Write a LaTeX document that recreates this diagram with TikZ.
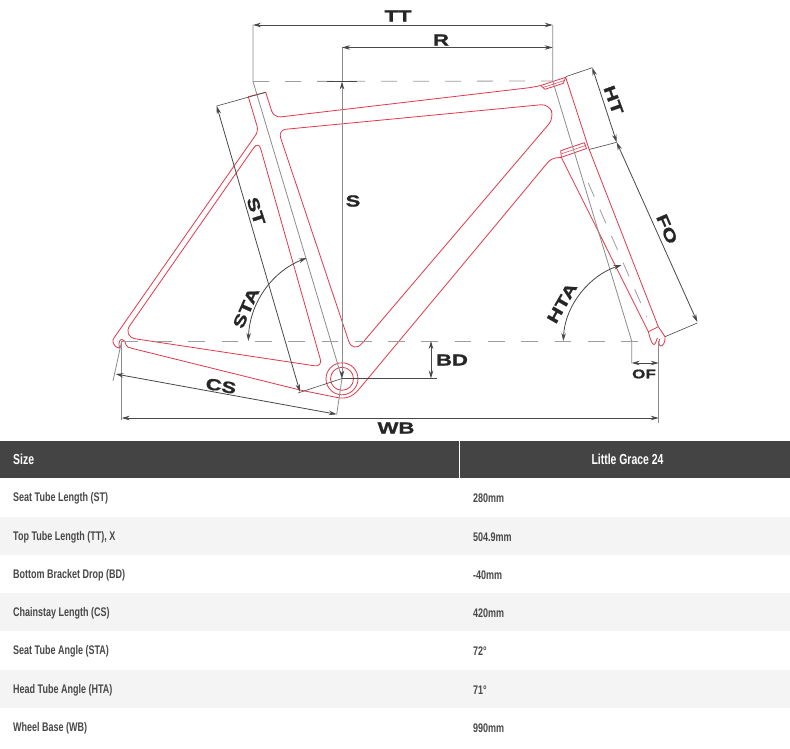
\documentclass[tikz,border=0pt]{standalone}
\usepackage{fontspec}
\setmainfont{Liberation Sans}
\newfontfamily\dimfont[FakeStretch=1.38,FakeBold=1.2]{Liberation Sans}
\newfontfamily\rowfont[FakeStretch=0.72]{Liberation Sans}
\usetikzlibrary{arrows.meta}
\definecolor{framered}{HTML}{E2384A}
\definecolor{dimdark}{HTML}{484848}
\definecolor{dimgray}{HTML}{8C8C8C}
\definecolor{bandgray}{HTML}{F4F4F4}
\tikzset{
  frameline/.style={draw=framered,line width=.8pt,line join=round},
  dimline/.style={draw=dimdark,line width=.8pt,{Stealth[length=8pt,width=4.5pt,color=dimdark]}-{Stealth[length=8pt,width=4.5pt,color=dimdark]}},
  extline/.style={draw=dimgray,line width=.8pt},
  thinline/.style={draw=dimdark,line width=.6pt},
  dashline/.style={draw=dimgray!85,line width=.8pt,dash pattern=on 16pt off 16pt},
  dimlabel/.style={font=\dimfont\bfseries\fontsize{16}{16}\selectfont,text=black!85,inner sep=0pt},
  rowlabel/.style={font=\rowfont\bfseries\fontsize{12.5}{14}\selectfont,text=dimdark,inner sep=0pt,anchor=west},
  headlabel/.style={rowlabel,font=\rowfont\bfseries\fontsize{14.5}{16}\selectfont,text=white}
}
\begin{document}
\begin{tikzpicture}[x=1pt,y=-1pt]
    \useasboundingbox (0,0) rectangle (790,749);
    \fill[white] (0,0) rectangle (790,749);

    % table
    \fill[bandgray] (0,517) rectangle (790,555) (0,593) rectangle (790,631) (0,670) rectangle (790,708);
    \fill[dimdark!95!black] (0,441) rectangle (790,478);
    \draw[white,line width=.7pt] (459.5,441) -- (459.5,478);
    \node[headlabel] (size) at (13,459.5) {Size};
    \node[headlabel,anchor=center] (model) at (627.5,459.5) {Little Grace 24};
    \foreach \y/\name/\val [count=\i] in {498/Seat Tube Length (ST)/280mm,
        537/{Top Tube Length (TT), X}/504.9mm,
        575/Bottom Bracket Drop (BD)/-40mm,
        613/Chainstay Length (CS)/420mm,
        651/Seat Tube Angle (STA)/72°,
        690/Head Tube Angle (HTA)/71°,
        728/Wheel Base (WB)/990mm} {
      \node[rowlabel] (name_\i) at (13,\y) {\name};
      \node[rowlabel] (val_\i) at (473,\y) {\val};
    }

    % frame
    \draw[frameline] (248.3,96.7) -- (265.7,92.3) [rounded corners=7pt] -- (273.8,117.7) -- (533,87.3) [sharp corners] -- (540.7,85.5) -- (565.7,77.3) -- (589,149) -- (658.3,326.7);
    \draw[frameline,rounded corners=5pt] (248.3,96.7) -- (258.5,131) -- (116,335) [sharp corners] .. controls (112,341) and (114,348) .. (119.5,348) .. controls (118,342) and (120,339.5) .. (122,339.5) .. controls (124,339.5) and (126,342) .. (126,345) .. controls (126.5,347) and (129,347.5) .. (131.7,348.3) -- (300,390) -- (337,397.5) .. controls (345,399) and (352,398) .. (360,388) -- (400,340) -- (500,220) [rounded corners=5pt] -- (551,158.5) -- (561.3,157.3);
    \draw[frameline,rounded corners=8pt] (258.5,141) -- (322.5,367) [rounded corners=14pt] -- (122,336.8) [rounded corners=8pt] -- cycle;
    \draw[frameline,rounded corners=8pt] (278,130) -- (549,104) -- (554,118) [rounded corners=14pt] -- (353,354) [rounded corners=8pt] -- cycle;
    \draw[frameline] (540.7,85.5) -- (545,89.3) -- (563.3,83.3) -- (565.7,77.3);
    \draw[frameline,line width=.5pt] (543,87.5) -- (564.5,80.5);
    \draw[frameline] (560.7,150.7) -- (584.3,142.7) -- (586.5,148.5) -- (561.3,157.3) -- cycle;
    \draw[frameline,line width=.5pt] (561,154) -- (585.5,145.5);
    \draw[frameline] (561.3,157.3) -- (648.3,331.7) .. controls (650,338) and (652,345) .. (654,344.5) .. controls (656,344) and (656.5,339) .. (657.5,338) ;
    \draw[frameline] (648.3,331.7) -- (658.3,326.7) -- (665,336.7) .. controls (665.5,342) and (663,346.5) .. (660.5,346) .. controls (658.5,345) and (658.5,341) .. (659.5,339);
    \node[circle,frameline,minimum size=32pt,inner sep=0pt] (bb_out) at (342,378.8) {};
    \node[circle,frameline,minimum size=23pt,inner sep=0pt] (bb_in) at (342,378.8) {};

    % points of the dimensions
    \coordinate (tt_l) at (253,25);
    \coordinate (tt_r) at (552.7,25);
    \coordinate (r_l) at (342,47.5);
    \coordinate (r_r) at (552.7,47.5);
    \coordinate (st_top) at (253,81.5);
    \coordinate (hd_top) at (552.7,81);
    \coordinate (s_top) at (342,81.5);
    \coordinate (bb) at (342,378.5);
    \coordinate (rear) at (121.7,341);
    \coordinate (front) at (658.7,341);
    \coordinate (hd_low) at (631.7,341);

    % extension lines
    \draw[extline] (tt_l) -- (st_top) -- (bb);
    \draw[extline] (tt_r) -- (hd_top) -- (hd_low) -- (631.7,363);
    \draw[extline] (r_l) -- (s_top);
    \draw[extline] (rear) -- (121.7,420);
    \draw[extline] (front) -- (658.7,423);
    \draw[dashline] (st_top) -- (hd_top);
    \draw[dashline,dash pattern=on 16.7pt off 16.6pt] (rear) -- (640,341);
    \draw[dashline,dash pattern=on 15pt off 14pt] (588.3,183) -- (646.7,316.7);
    \draw[thinline,line width=.9pt] (327,81) -- (357,81);
    \draw[thinline] (216.7,106) -- (265.7,92.3);
    \draw[thinline] (298,393) -- (bb);
    \draw[thinline] (bb) -- (437,378.5);
    \draw[thinline] (592.3,67.7) -- (565.7,76.7);
    \draw[thinline] (616.7,142.3) -- (589,149.5);
    \draw[thinline] (697.3,323) -- (665,336.7);
    \draw[extline] (rear) -- (113,381);
    \draw[extline] (bb) -- (336.7,414.3);

    % dimensions
    \draw[dimline] (tt_l) -- (tt_r);
    \draw[dimline] (r_l) -- (r_r);
    \draw[dimline,dimgray] (bb) -- (s_top);
    \draw[dimline] (216.7,106) -- (300,392);
    \draw[dimline] (592.3,67.7) -- (616.7,142.3);
    \draw[dimline] (616.7,142.3) -- (697.3,322);
    \draw[dimline] (431,341) -- (431,378.5);
    \draw[dimline] (631.7,363) -- (658.7,363);
    \draw[dimline] (121.7,418) -- (658.7,418);
    \draw[dimline] (115.5,374) -- (336.7,414.3);
    \draw[dimline] (248.3,341) .. controls (250,300) and (275,270) .. (306.7,258);
    \draw[dimline] (563.3,341) .. controls (565,305) and (590,275) .. (621.7,265);

    % labels
    \node[dimlabel] (l_tt) at (398,16) {TT};
    \node[dimlabel] (l_r) at (441,40) {R};
    \node[dimlabel] (l_s) at (353,201) {S};
    \node[dimlabel,rotate=-72] (l_st) at (256,211) {ST};
    \node[dimlabel,rotate=66] (l_sta) at (246,308) {STA};
    \node[dimlabel,rotate=-10] (l_cs) at (221,386) {CS};
    \node[dimlabel] (l_wb) at (396,428) {WB};
    \node[dimlabel] (l_bd) at (452,360) {BD};
    \node[dimlabel,font=\dimfont\bfseries\fontsize{12.5}{12.5}\selectfont] (l_of) at (644,374) {OF};
    \node[dimlabel,rotate=60] (l_hta) at (562,303) {HTA};
    \node[dimlabel,rotate=-70] (l_ht) at (613.5,100) {HT};
    \node[dimlabel,rotate=-67] (l_fo) at (667,229) {FO};
\end{tikzpicture}
\end{document}
